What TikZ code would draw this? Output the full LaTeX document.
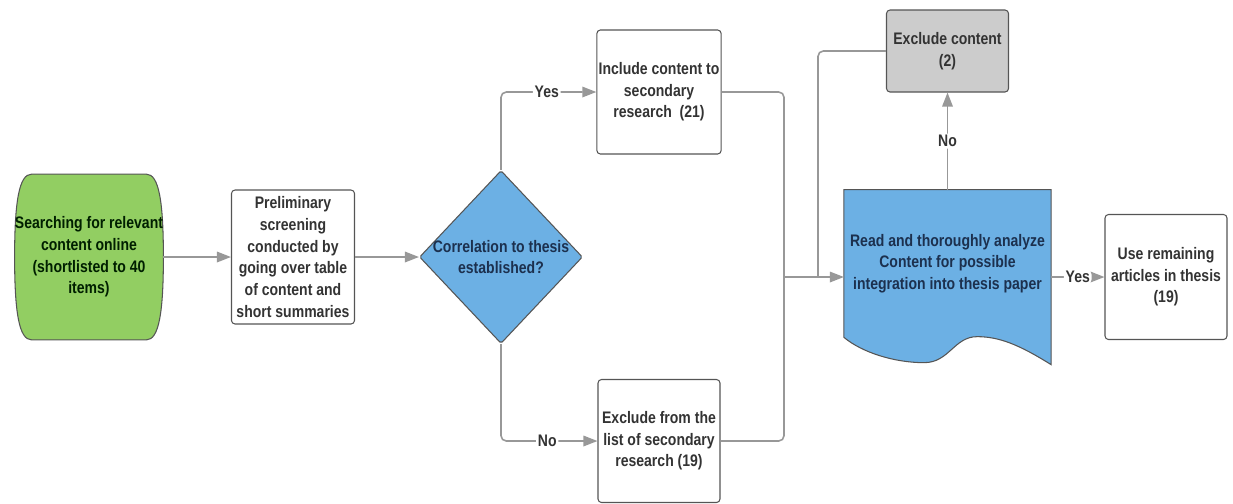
\documentclass[tikz,border=0pt]{standalone}
\usepackage{fontspec}
\setmainfont{Liberation Sans}[FakeStretch=0.84]
\usetikzlibrary{shapes.geometric,arrows.meta,backgrounds,positioning}
\definecolor{startgreen}{RGB}{146,206,98}
\definecolor{docblue}{RGB}{108,176,228}
\definecolor{excgray}{RGB}{204,204,204}
\definecolor{linegray}{RGB}{152,152,152}
\definecolor{edgegray}{RGB}{85,85,85}
\definecolor{navy}{RGB}{28,48,78}
\tikzstyle{base} = [font=\fontsize{9.5}{12.3}\selectfont\bfseries, align=center, text=black!80]
\tikzstyle{block} = [base, draw=edgegray, line width=0.6pt, rounded corners=2pt, fill=white, minimum width=2.44cm, minimum height=2.48cm, inner sep=1pt]
\tikzstyle{start} = [base, minimum width=2.96cm, minimum height=3.3cm, inner sep=0pt, text=green!12!black]
\tikzstyle{decision} = [diamond, draw=edgegray, line width=0.6pt, fill=docblue, minimum width=3.26cm, minimum height=3.46cm, inner sep=0pt, rounded corners=1pt]
\tikzstyle{outline} = [draw=edgegray, line width=0.6pt]
\tikzstyle{flow} = [draw=linegray, line width=0.9pt, rounded corners=3pt]
\tikzstyle{answer} = [base, fill=white, inner sep=1pt]

\begin{document}
\begin{tikzpicture}[node distance=2cm, >={Triangle[length=8pt,width=6pt]}]
\useasboundingbox (0,0) rectangle (24.66,-10.06);

\node [start] (search) at (1.78,-5.14) {Searching for relevant\\content online\\(shortlisted to 40\\items)};
\node [block, right of=search, node distance=4.08cm, minimum width=2.46cm, minimum height=2.68cm] (screen) {Preliminary\\screening\\conducted by\\going over table\\of content and\\short summaries};

\node [decision, right of=screen, node distance=4.16cm] (corr) {};
\node [base, text=navy] at (corr) (corrtext) {Correlation to thesis\\established?};

\node [block, right of=corr, node distance=3.16cm, yshift=3.3cm] (include) {Include content to\\secondary\\research~~(21)};
\node [block, right of=corr, node distance=3.16cm, yshift=-3.68cm, minimum height=2.46cm] (exclist) {Exclude from the\\list of secondary\\research (19)};

\node [base, right of=corr, node distance=8.93cm, yshift=-0.13cm, minimum width=3.98cm, minimum height=2.94cm, text=navy] (read) {Read and thoroughly analyze\\Content for possible\\integration into thesis paper};
\node [block, above of=read, node distance=4.25cm, fill=excgray, minimum height=1.64cm] (exclude) {Exclude content\\(2)};
\node [block, right of=read, node distance=4.37cm, yshift=-0.27cm, minimum height=2.5cm] (use) {Use remaining\\articles in thesis\\(19)};

\node [coordinate, left of=read, node distance=3.27cm, yshift=-0.27cm] (join) {};
\node [coordinate, left of=read, node distance=2.59cm, yshift=-0.27cm] (merge) {};

% shapes behind the text
\begin{pgfonlayer}{background}
\draw [outline, fill=startgreen] ([xshift=-1.15cm]search.north) -- ([xshift=1.15cm]search.north)
  .. controls +(0.25,0) and +(0,1.1) .. (search.east)
  .. controls +(0,-1.1) and +(0.25,0) .. ([xshift=1.15cm]search.south)
  -- ([xshift=-1.15cm]search.south)
  .. controls +(-0.25,0) and +(0,-1.1) .. (search.west)
  .. controls +(0,1.1) and +(-0.25,0) .. cycle;
\draw [outline, fill=docblue] (read.north west) -- (read.north east) -- ++(0,-3.5)
  .. controls +(-0.64,0.4) and +(0.44,0) .. ++(-1.48,0.56)
  .. controls +(-0.46,0) and +(0.5,0) .. ++(-1.06,-0.52)
  .. controls +(-0.6,0) and +(0.36,-0.3) .. (read.south west) -- cycle;
\end{pgfonlayer}

\draw [flow, ->] (search) -- (screen);
\draw [flow, ->] (screen) -- (corr);
\draw [flow, ->] (corr.north) |- node[answer, pos=0.74] {Yes} (include.west);
\draw [flow, ->] (corr.south) |- node[answer, pos=0.74] {No} (exclist.west);

\draw [flow] (include.east) -| (join);
\draw [flow] (exclist.east) -| (join);
\draw [flow] (exclude.west) -| (merge);
\draw [flow, ->] (join) -- (join -| read.west);

\draw [flow, ->] (read.north) -- node[answer] {No} (exclude.south);
\draw [flow, ->] (read.east |- use.west) -- node[answer] {Yes} (use.west);

\end{tikzpicture}
\end{document}
